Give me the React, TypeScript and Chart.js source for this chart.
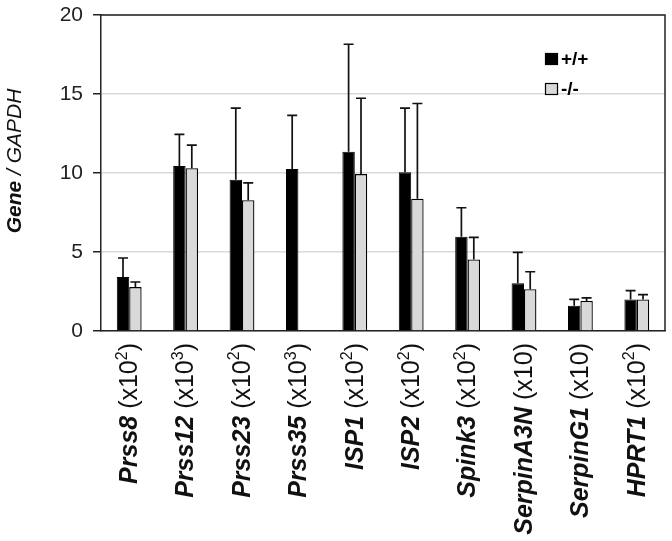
import React, { useEffect, useRef } from "react";
import { Chart, registerables } from "chart.js";

Chart.register(...registerables);

const genes = ["Prss8", "Prss12", "Prss23", "Prss35", "ISP1", "ISP2", "Spink3", "SerpinA3N", "SerpinG1", "HPRT1"];
const multipliers = ["(x10", "(x10", "(x10", "(x10", "(x10", "(x10", "(x10", "(x10", "(x10", "(x10"];
const exponents = ["2", "3", "2", "3", "2", "2", "2", "", "", "2"];
const wildType = [3.42, 10.44, 9.57, 10.25, 11.35, 10.05, 5.97, 3.02, 1.6, 2.0];
const wildTypeErr = [1.2, 2.0, 4.53, 3.4, 6.8, 4.05, 1.83, 1.96, 0.4, 0.55];
const knockout = [2.78, 10.3, 8.28, 0.05, 9.93, 8.37, 4.53, 2.65, 1.9, 2.0];
const knockoutErr = [0.32, 1.47, 1.09, 0, 4.8, 6.03, 1.4, 1.1, 0.2, 0.3];
const yTicks = [0, 5, 10, 15, 20];
const legendLabels = ["+/+", "-/-"];

const FONT = "'Liberation Sans', Arial, sans-serif";

const customPlugin = {
  id: "custom",
  afterDatasetsDraw(chart: any) {
    const ctx = chart.ctx;
    const { left, right, top, bottom } = chart.chartArea;
    const y = chart.scales.y;
    const errs = [wildTypeErr, knockoutErr];
    const vals = [wildType, knockout];
    ctx.save();
    ctx.strokeStyle = "#111";
    ctx.lineWidth = 1.7;
    for (let d = 0; d < 2; d++) {
      const meta = chart.getDatasetMeta(d);
      meta.data.forEach((bar: any, i: number) => {
        if (!errs[d][i]) return;
        const x = bar.x;
        const y0 = y.getPixelForValue(vals[d][i]);
        const y1 = y.getPixelForValue(vals[d][i] + errs[d][i]);
        ctx.beginPath();
        ctx.moveTo(x, y0);
        ctx.lineTo(x, y1);
        ctx.moveTo(x - 5, y1);
        ctx.lineTo(x + 5, y1);
        ctx.stroke();
      });
    }
    ctx.strokeStyle = "#222";
    ctx.lineWidth = 1.5;
    ctx.beginPath();
    ctx.moveTo(left, top);
    ctx.lineTo(right, top);
    ctx.lineTo(right, bottom);
    ctx.stroke();
    ctx.restore();
  },
  afterDraw(chart: any) {
    const ctx = chart.ctx;
    const xs = chart.scales.x;
    const { bottom } = chart.chartArea;
    ctx.save();
    ctx.fillStyle = "#111";
    genes.forEach((g, i) => {
      const x = xs.getPixelForValue(i);
      const parts = [
        { t: g + " ", f: `italic bold 25px ${FONT}`, dy: 0 },
        { t: multipliers[i], f: `25px ${FONT}`, dy: 0 },
        { t: exponents[i], f: `16px ${FONT}`, dy: -8 },
        { t: ")", f: `25px ${FONT}`, dy: 0 },
      ];
      let total = 0;
      parts.forEach((p) => {
        ctx.font = p.f;
        total += ctx.measureText(p.t).width;
      });
      ctx.save();
      ctx.translate(x, bottom + 12);
      ctx.rotate(-Math.PI / 2);
      ctx.textBaseline = "middle";
      ctx.textAlign = "left";
      let cx = -total;
      parts.forEach((p) => {
        ctx.font = p.f;
        ctx.fillText(p.t, cx, p.dy + 1);
        cx += ctx.measureText(p.t).width;
      });
      ctx.restore();
    });
    const tparts = [
      { t: "Gene", f: `italic bold 21px ${FONT}` },
      { t: " / GAPDH", f: `italic 21px ${FONT}` },
    ];
    let tw = 0;
    tparts.forEach((p) => {
      ctx.font = p.f;
      tw += ctx.measureText(p.t).width;
    });
    ctx.save();
    ctx.translate(15, 161);
    ctx.rotate(-Math.PI / 2);
    ctx.textBaseline = "middle";
    let tx = -tw / 2;
    tparts.forEach((p) => {
      ctx.font = p.f;
      ctx.fillText(p.t, tx, 0);
      tx += ctx.measureText(p.t).width;
    });
    ctx.restore();
    const items = [
      { label: legendLabels[0], fill: "#000", y: 53 },
      { label: legendLabels[1], fill: "#d9d9d9", y: 83 },
    ];
    items.forEach((it) => {
      ctx.fillStyle = it.fill;
      ctx.fillRect(545, it.y, 13, 12);
      ctx.strokeStyle = "#000";
      ctx.lineWidth = 1.2;
      ctx.strokeRect(545.5, it.y + 0.5, 12, 11);
      ctx.fillStyle = "#000";
      ctx.font = `bold 19px ${FONT}`;
      ctx.textBaseline = "middle";
      ctx.textAlign = "left";
      ctx.fillText(it.label, 561, it.y + 7);
    });
    ctx.restore();
  },
};

export default function App() {
  const ref = useRef<HTMLCanvasElement>(null);
  useEffect(() => {
    if (!ref.current) return;
    const chart = new Chart(ref.current, {
      type: "bar",
      data: {
        labels: genes,
        datasets: [
          {
            label: legendLabels[0],
            data: wildType,
            backgroundColor: "#000",
            borderColor: "#000",
            borderWidth: 1,
            categoryPercentage: 0.44,
            barPercentage: 1,
          },
          {
            label: legendLabels[1],
            data: knockout,
            backgroundColor: "#d9d9d9",
            borderColor: "#000",
            borderWidth: 1.3,
            categoryPercentage: 0.44,
            barPercentage: 1,
          },
        ],
      },
      plugins: [customPlugin],
      options: {
        responsive: false,
        animation: false,
        layout: { padding: { top: 15, right: 7, left: 0, bottom: 0 } },
        plugins: { legend: { display: false }, tooltip: { enabled: false } },
        scales: {
          x: {
            grid: { display: false },
            border: { display: true, color: "#222", width: 1.5 },
            ticks: { display: false },
            afterFit: (s: any) => {
              s.height = 210;
              s.paddingLeft = 0;
              s.paddingRight = 0;
            },
          },
          y: {
            min: 0,
            max: 20,
            afterBuildTicks: (s: any) => {
              s.ticks = yTicks.map((v) => ({ value: v }));
            },
            grid: {
              color: "#d9d9d9",
              lineWidth: 1.5,
              drawTicks: true,
              tickLength: 8,
              tickColor: "#222",
            },
            border: { display: true, color: "#222", width: 1.5 },
            ticks: {
              font: { family: FONT, size: 21 },
              color: "#222",
              padding: 10,
            },
            afterFit: (s: any) => {
              s.width = 101;
              s.paddingTop = 0;
              s.paddingBottom = 0;
            },
          },
        },
      },
    });
    return () => chart.destroy();
  }, []);
  return (
    <div style={{ position: "fixed", left: 0, top: 0, width: 672, height: 541, background: "#fff" }}>
      <canvas ref={ref} width={672} height={541} />
    </div>
  );
}
